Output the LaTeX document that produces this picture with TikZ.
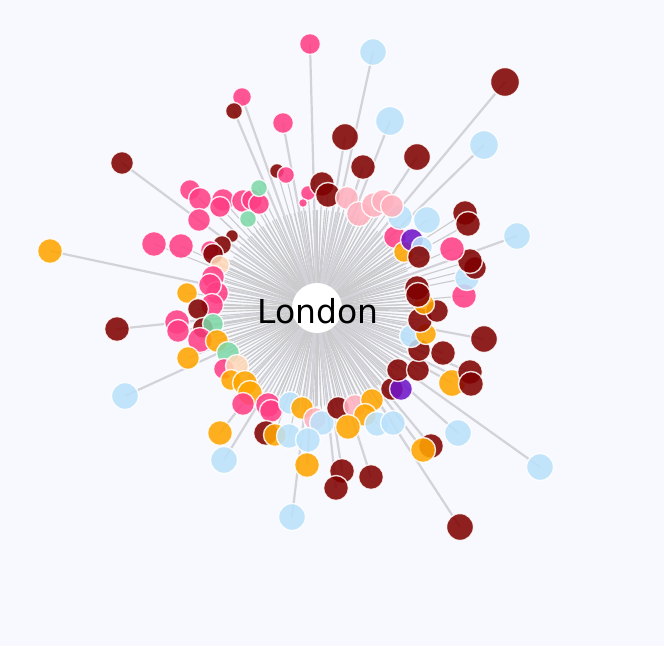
\documentclass[tikz,border=0pt]{standalone}
\usepackage{fontspec}
\setmainfont{DejaVu Sans}
\definecolor{bgc}{HTML}{F8F9FE}
\definecolor{linkc}{HTML}{D2D2D8}
\definecolor{spokec}{HTML}{CBCBCE}
\definecolor{cP}{HTML}{FF3D85}
\definecolor{cD}{HTML}{800000}
\definecolor{cO}{HTML}{FFA500}
\definecolor{cB}{HTML}{BBE2FB}
\definecolor{cL}{HTML}{FFB0BE}
\definecolor{cM}{HTML}{7FD8A8}
\definecolor{cV}{HTML}{7014C8}
\definecolor{cE}{HTML}{FFD8B8}
\pgfdeclarelayer{back}
\pgfdeclarelayer{bg}
\pgfsetlayers{back,bg,main}
\begin{document}
\begin{tikzpicture}[x=1pt,y=-1pt,
  dot/.style={circle,inner sep=0pt,draw=white,draw opacity=0.85,line width=1.4pt,fill opacity=0.87},
  link/.style={draw=linkc,line width=2.2pt},
  spoke/.style={draw=spokec,line width=1.1pt},
  lbl/.style={font=\fontsize{33}{40}\selectfont,text=black,inner sep=0pt}]
\begin{pgfonlayer}{back}
\fill[bgc] (0,0) rectangle (664,646);
\end{pgfonlayer}
\useasboundingbox (0,0) rectangle (664,646);
\coordinate (hub) at (317,308);
\foreach \n/\x/\y/\r/\c in {
1/310/44/10/P, 2/373/52/13/B, 3/505/82/14/D, 4/390/121/14/B, 5/484/145/14/B,
6/345/137/13/D, 7/363/167/12/D, 8/417/157/13/D, 9/242/97/9/P, 10/234/111/8/D,
11/283/123/10/P, 12/122/163/11/D, 13/517/236/13/B, 14/50/251/12/O, 15/117/329/12/D,
16/125/396/13/B, 17/484/339/13/D, 18/458/433/13/B, 19/540/467/13/B, 20/460/527/13/D,
21/292/517/13/B, 22/371/477/12/D, 23/342/471/12/D, 24/336/488/12/D, 25/307/465/12/O,
26/224/460/13/B, 27/220/433/12/O, 28/431/446/12/D, 29/423/450/12/O, 30/452/383/13/O,
31/470/372/12/D, 32/471/384/12/D, 33/443/353/12/D,
34/190/190/10/P, 35/200/199/11/P, 36/199/220/11/P, 37/223/200/11/P, 38/220/207/10/P,
39/243/201/11/P, 40/252/200/10/P, 41/259/204/10/P, 42/259/188/8/M, 43/248/219/8/M,
44/154/244/12/P, 45/181/246/12/P, 46/277/171/7/D, 47/286/175/8/P, 48/308/193/7/P,
49/303/203/4/P, 50/322/184/12/D, 51/328/195/12/D,
52/232/236/6/D, 53/222/245/9/D, 54/210/250/9/P, 55/213/254/10/D, 56/220/265/9/E,
57/213/277/11/P, 58/217/293/11/P, 59/210/285/11/P, 60/187/293/10/O, 61/212/305/11/P,
62/198/309/10/D, 63/177/322/12/P, 64/178/331/11/P, 65/203/328/10/D, 66/213/324/10/M,
67/200/340/12/P, 68/217/341/11/O, 69/188/358/11/O, 70/228/353/11/M, 71/224/369/10/P,
72/237/366/11/E, 73/231/380/10/O, 74/245/383/12/O, 75/250/393/12/O, 76/243/404/11/P,
77/268/405/12/P, 78/271/411/11/P, 79/290/403/11/B, 80/302/408/11/O, 81/315/419/11/L,
82/322/423/12/B, 83/266/433/12/D, 84/275/435/11/O, 85/289/436/12/B, 86/308/440/12/B,
87/338/408/11/D, 88/355/406/11/L, 89/372/400/11/O, 90/365/415/11/O, 91/348/427/12/O,
92/377/424/12/B, 93/393/423/12/B, 94/392/389/11/D, 95/401/389/11/V, 96/398/370/11/D,
97/418/370/11/D, 98/419/350/11/D, 99/411/336/11/B, 100/426/334/10/O, 101/420/320/12/D,
102/437/311/11/D, 103/424/304/10/O, 104/417/288/12/D, 105/418/295/12/D, 106/464/296/12/P,
107/467/278/12/B, 108/475/268/11/D, 109/470/261/12/D, 110/452/249/12/P, 111/465/213/12/D,
112/468/224/12/D, 113/395/237/11/P, 114/404/252/10/O, 115/412/240/11/V, 116/422/247/10/B,
117/419/257/11/D, 118/400/217/12/B, 119/427/220/13/B, 120/347/198/11/L, 121/359/214/12/L,
122/374/205/12/L, 123/383/201/11/L, 124/392/206/11/L}
  \node[dot,minimum size={2*\r*1pt+1pt},fill=c\c] (n\n) at (\x,\y) {};
\begin{pgfonlayer}{bg}
  \foreach \a in {0,2.25,...,358} \draw[spoke] (hub) ++(\a:24) -- ++(\a:74);
  \foreach \n in {34,...,124} \draw[spoke] (hub) -- (n\n.center);
  \foreach \n in {1,...,33} \draw[link] (hub) -- (n\n.center);
  \fill[white] (hub) circle (25);
\end{pgfonlayer}
\node[lbl] (city) at (318,311) {London};
\end{tikzpicture}
\end{document}
